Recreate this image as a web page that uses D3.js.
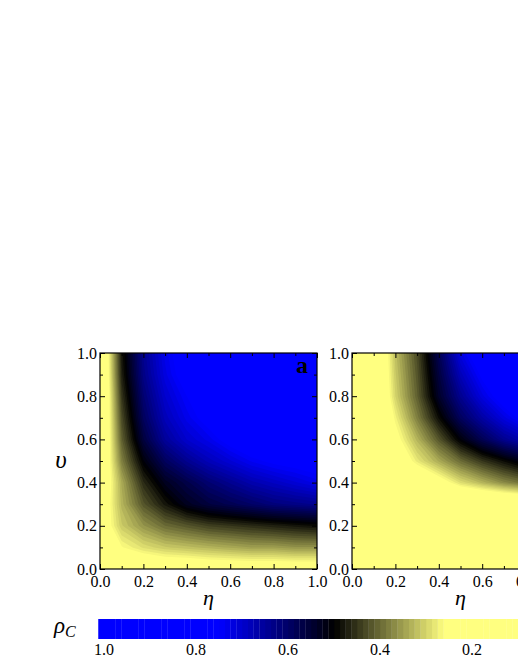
<!DOCTYPE html>
<html><head><meta charset="utf-8">
<script src="https://cdn.jsdelivr.net/npm/d3@7/dist/d3.min.js"></script>
<style>
html,body{margin:0;padding:0;background:#fff;overflow:hidden}
svg text{font-family:"Liberation Serif","Times New Roman","DejaVu Serif",serif !important;}
</style>
</head><body>
<svg id="chart" width="518" height="670"></svg>
<script>
// ---------- data ----------
const etaValues = [0.0,0.1,0.2,0.3,0.4,0.5,0.6,0.7,0.8,0.9,1.0];
const upsilonValues = [0.0,0.1,0.2,0.3,0.4,0.5,0.6,0.7,0.8,0.9,1.0];
// rows: upsilon ascending; columns: eta ascending
const rhoPanelA = [
  [0.12,0.17,0.19,0.20,0.20,0.21,0.21,0.21,0.21,0.21,0.21],
  [0.16,0.26,0.29,0.31,0.32,0.33,0.34,0.35,0.35,0.36,0.36],
  [0.21,0.31,0.36,0.40,0.42,0.44,0.45,0.46,0.47,0.48,0.49],
  [0.20,0.33,0.42,0.48,0.53,0.56,0.58,0.60,0.62,0.63,0.64],
  [0.18,0.34,0.46,0.53,0.57,0.61,0.64,0.67,0.69,0.71,0.73],
  [0.16,0.38,0.51,0.59,0.64,0.68,0.71,0.74,0.76,0.77,0.78],
  [0.14,0.41,0.56,0.65,0.70,0.73,0.77,0.80,0.82,0.83,0.84],
  [0.13,0.43,0.59,0.68,0.73,0.77,0.80,0.83,0.85,0.86,0.87],
  [0.12,0.45,0.61,0.70,0.75,0.80,0.83,0.85,0.87,0.88,0.89],
  [0.12,0.47,0.63,0.72,0.78,0.82,0.85,0.87,0.88,0.89,0.90],
  [0.12,0.48,0.64,0.73,0.79,0.83,0.86,0.88,0.89,0.90,0.91]
];
const rhoPanelB = [
  [0.08,0.08,0.08,0.08,0.09,0.09,0.09,0.09,0.10,0.10,0.10],
  [0.09,0.09,0.09,0.09,0.10,0.10,0.10,0.10,0.11,0.11,0.11],
  [0.10,0.10,0.10,0.10,0.11,0.11,0.11,0.11,0.12,0.12,0.12],
  [0.10,0.10,0.11,0.12,0.13,0.13,0.13,0.14,0.15,0.16,0.17],
  [0.10,0.11,0.14,0.18,0.23,0.29,0.33,0.37,0.40,0.42,0.44],
  [0.10,0.12,0.20,0.28,0.34,0.40,0.45,0.49,0.53,0.56,0.58],
  [0.10,0.13,0.24,0.33,0.42,0.51,0.58,0.64,0.68,0.71,0.73],
  [0.10,0.14,0.27,0.38,0.49,0.59,0.66,0.72,0.77,0.81,0.84],
  [0.10,0.15,0.30,0.41,0.54,0.64,0.72,0.78,0.83,0.86,0.87],
  [0.10,0.15,0.31,0.42,0.56,0.68,0.76,0.82,0.86,0.88,0.89],
  [0.10,0.15,0.32,0.43,0.58,0.72,0.80,0.85,0.88,0.90,0.91]
];
const majorTicks = [0.0,0.2,0.4,0.6,0.8,1.0];
const minorTicks = [0.1,0.3,0.5,0.7,0.9];
const colorbarTicks = [1.0,0.8,0.6,0.4,0.2];
const panelLabels = ["a"];
const axisTitleX = "η", axisTitleY = "υ";

// ---------- style / layout ----------
const FONT = "Liberation Serif";
const W = 217, TOP = 353, BOTTOM = 569, VIEW_W = 518;
const panelLefts = [100, 352];
const levelStep = 0.0125;
const colorStops = {domain:[0.26,0.5,0.75], range:["#ffff80","#000000","#0000ff"]};

const svg = d3.select("#chart");
const color = d3.scaleLinear().domain(colorStops.domain).range(colorStops.range)
  .interpolate(d3.interpolateRgb).clamp(true);
const thresholds = d3.range(0, 81).map(i => +(i*levelStep).toFixed(4));
const bandColor = t => color(t + levelStep/2);

const yScale = d3.scaleLinear().domain([0,1]).range([BOTTOM, TOP]);
const fmt = d3.format(".1f");
const defs = svg.append("defs");

[rhoPanelA, rhoPanelB].forEach((grid, pi) => {
  const x0 = panelLefts[pi];
  const xScale = d3.scaleLinear().domain([0,1]).range([x0, x0+W]);
  const nx = etaValues.length, ny = upsilonValues.length;
  const dEta = etaValues[1]-etaValues[0], dUp = upsilonValues[1]-upsilonValues[0];
  const flat = grid.flat();
  const contours = d3.contours().size([nx, ny]).thresholds(thresholds)(flat);
  const proj = d3.geoTransform({point(px, py){
    this.stream.point(xScale(etaValues[0] + (px-0.5)*dEta), yScale(upsilonValues[0] + (py-0.5)*dUp));
  }});
  const path = d3.geoPath(proj);
  const cid = "clip"+pi;
  defs.append("clipPath").attr("id", cid).append("rect")
    .attr("x", x0).attr("y", TOP).attr("width", W).attr("height", BOTTOM-TOP);
  const g = svg.append("g").attr("clip-path", `url(#${cid})`);
  g.selectAll("path").data(contours).join("path")
    .attr("d", path).attr("fill", d => bandColor(d.value)).attr("stroke", "none");

  // axes (inward ticks on all sides)
  const axG = svg.append("g");
  const mk = (axis, tx, ty, vals, size, labels) => {
    const a = axis.tickValues(vals).tickSizeInner(-size).tickSizeOuter(0);
    if (!labels) a.tickFormat(""); else a.tickFormat(fmt);
    const gg = axG.append("g").attr("transform", `translate(${tx},${ty})`).call(a);
    gg.attr("font-family", FONT);
    gg.select(".domain").remove();
    gg.selectAll("line").attr("stroke", "#000").attr("stroke-width", 1);
    gg.selectAll("text").attr("font-size", 16).attr("fill", "#000");
    gg.selectAll(".tick").filter(d => labels && tx === 0 && xScale(d) - 8 > VIEW_W).remove();
    return gg;
  };
  mk(d3.axisBottom(xScale).tickPadding(7), 0, BOTTOM, majorTicks, 5, true);
  mk(d3.axisBottom(xScale), 0, BOTTOM, minorTicks, 3, false);
  mk(d3.axisTop(xScale), 0, TOP, majorTicks, 5, false);
  mk(d3.axisTop(xScale), 0, TOP, minorTicks, 3, false);
  mk(d3.axisLeft(yScale).tickPadding(3), x0, 0, majorTicks, 5, true);
  mk(d3.axisLeft(yScale), x0, 0, minorTicks, 3, false);
  mk(d3.axisRight(yScale), x0+W, 0, majorTicks, 5, false);
  mk(d3.axisRight(yScale), x0+W, 0, minorTicks, 3, false);

  svg.append("rect").attr("x", x0).attr("y", TOP).attr("width", W).attr("height", BOTTOM-TOP)
    .attr("fill", "none").attr("stroke", "#000").attr("stroke-width", 1.2);

  svg.append("text").attr("x", x0 + W/2).attr("y", 605).attr("text-anchor", "middle")
    .attr("font-style", "italic").attr("font-size", 22).text(axisTitleX);

  if (panelLabels[pi]) {
    svg.append("text").attr("x", x0 + W - 9).attr("y", 373).attr("text-anchor", "end")
      .attr("font-weight", "bold").attr("font-size", 24).text(panelLabels[pi]);
  }
});

// y axis title
svg.append("text").attr("x", 61).attr("y", 468).attr("text-anchor", "middle")
  .attr("font-style", "italic").attr("font-size", 25).text(axisTitleY);

// ---------- colorbar ----------
const cb = d3.scaleLinear().domain([1,0]).range([104, 564]);
const CB_TOP = 619, CB_H = 20;
svg.append("g").selectAll("rect").data(thresholds).join("rect")
  .attr("x", d => cb(d + levelStep)).attr("y", CB_TOP)
  .attr("width", d => cb(d) - cb(d + levelStep) + 0.3).attr("height", CB_H)
  .attr("fill", d => bandColor(d));
svg.append("g").selectAll("text").data(colorbarTicks).join("text")
  .attr("x", d => cb(d)).attr("y", 655).attr("text-anchor", "middle")
  .attr("font-size", 16).text(d => fmt(d));

const rl = svg.append("text").attr("x", 54).attr("y", 633)
  .attr("font-style", "italic").attr("font-size", 23);
rl.append("tspan").text("ρ");
rl.append("tspan").attr("font-size", 16).attr("dy", 4).text("C");
</script>
</body></html>
